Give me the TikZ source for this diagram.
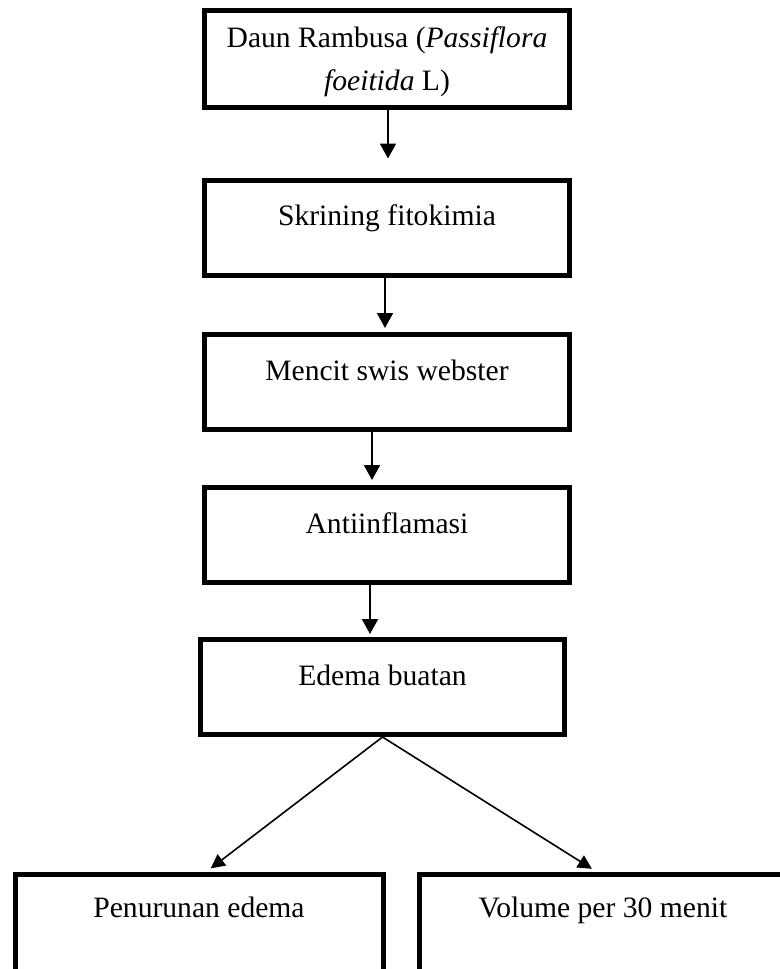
\documentclass[tikz,border=0pt]{standalone}
\usepackage{fontspec}
\setmainfont{Liberation Serif}
\usetikzlibrary{arrows.meta}

\tikzset{
  flowbox/.style={rectangle, draw, line width=2.5pt, inner sep=0pt,
    minimum width=182.5pt, align=center,
    font=\fontsize{14.8}{21.5}\selectfont,
    text height=22.75pt, text depth=24.75pt},
  flowarrow/.style={-{Triangle[width=8pt,length=7.5pt]}, line width=1pt},
  splitarrow/.style={-{Triangle[width=7pt,length=7pt]}, line width=0.8pt}
}

\begin{document}
\begin{tikzpicture}[x=0.5pt,y=-0.5pt]
\useasboundingbox (0,0) rectangle (780,969);

% multi-line text sits on its last line
\node[flowbox, text height=40pt, text depth=8.5pt] (rambusa) at (387,59)
  {Daun Rambusa (\textit{Passiflora}\\ \textit{foeitida} L)};
\node[flowbox] (skrining) at (387,227.5) {Skrining fitokimia};
\node[flowbox] (mencit) at (387,382) {Mencit swis webster};
\node[flowbox] (antiinf) at (387,535) {Antiinflamasi};
\node[flowbox, minimum width=182pt] (edema) at (382.5,687) {Edema buatan};
\node[flowbox, minimum width=184pt, text height=21.5pt, text depth=38.5pt]
  (penurunan) at (199,934.5) {Penurunan edema};
\node[flowbox, minimum width=184pt, text height=21.5pt, text depth=38.5pt]
  (volume) at (603,934.5) {Volume per 30 menit};

\draw[flowarrow, shorten >=9.5pt] ([xshift=0.5pt]rambusa.south) -- ([xshift=0.5pt]skrining.north);
\draw[flowarrow, shorten >=2pt] ([xshift=-1pt]skrining.south) -- ([xshift=-1pt]mencit.north);
\draw[flowarrow, shorten >=2.5pt] ([xshift=-7.5pt]mencit.south) -- ([xshift=-7.5pt]antiinf.north);
\draw[flowarrow, shorten >=1.5pt] ([xshift=-8.5pt]antiinf.south) -- ([xshift=-8.5pt]antiinf.south |- edema.north);

\draw[splitarrow, shorten >=3pt] (edema.south) -- ([xshift=3.5pt]penurunan.north);
\draw[splitarrow, shorten >=3pt] (edema.south) -- ([xshift=-3pt]volume.north);
\end{tikzpicture}
\end{document}
